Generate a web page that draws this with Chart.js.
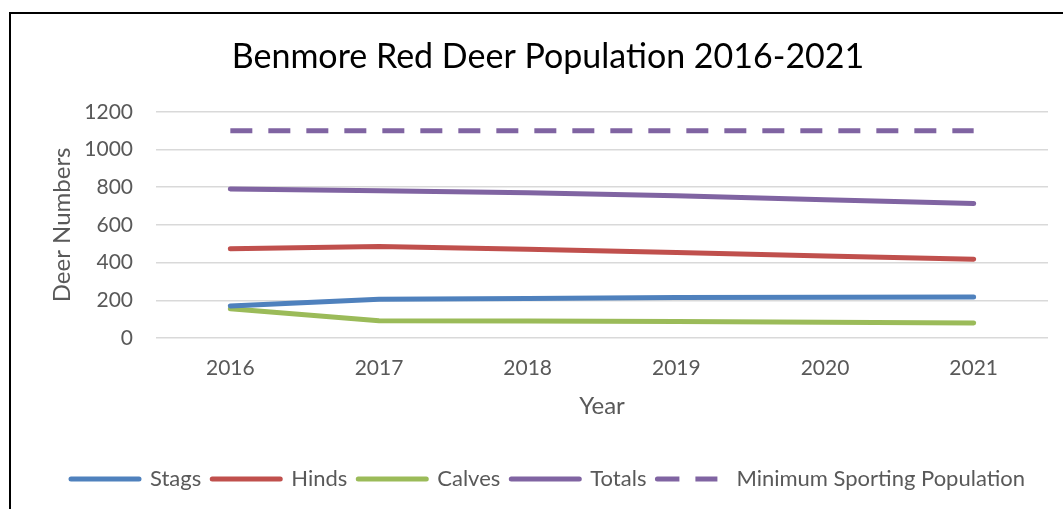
<!DOCTYPE html>
<html>
<head>
<meta charset="utf-8">
<script src="https://cdn.jsdelivr.net/npm/chart.js@4/dist/chart.umd.min.js"></script>
<style>
  html, body { margin: 0; padding: 0; background: #fff; width: 1063px; height: 509px; overflow: hidden; }
  #wrap { position: absolute; left: 9px; top: 12px; width: 1054px; height: 497px;
          border-left: 2px solid #000; border-top: 2px solid #000; box-sizing: border-box; }
  #c { display: block; }
</style>
</head>
<body>
<div id="wrap"><canvas id="c" width="1052" height="495"></canvas></div>
<script>
const years = ['2016', '2017', '2018', '2019', '2020', '2021'];
const stags = [170, 205, 210, 215, 216, 217];
const hinds = [473, 485, 471, 453, 435, 418];
const calves = [155, 92, 90, 87, 84, 80];
const totals = [791, 781, 770, 754, 733, 713];
const minSporting = [1100, 1100, 1100, 1100, 1100, 1100];

const FONT = 'Lato, "Open Sans", sans-serif';
const GREY = '#595959';

function line(label, data, color, dash) {
  return {
    label, data,
    borderColor: color, backgroundColor: color,
    borderWidth: 5, pointRadius: 0, pointHoverRadius: 0, tension: 0,
    borderCapStyle: dash ? 'butt' : 'round', borderJoinStyle: 'round',
    borderDash: dash || []
  };
}

new Chart(document.getElementById('c'), {
  type: 'line',
  data: {
    labels: years,
    datasets: [
      line('Stags', stags, '#4F81BD'),
      line('Hinds', hinds, '#C0504D'),
      line('Calves', calves, '#9BBB59'),
      line('Totals', totals, '#8064A2'),
      line('Minimum Sporting Population', minSporting, '#8064A2', [22, 16])
    ]
  },
  options: {
    responsive: false,
    animation: false,
    events: [],
    layout: { padding: { top: 10, left: 37, right: 15, bottom: 9 } },
    plugins: {
      tooltip: { enabled: false },
      title: {
        display: true,
        text: 'Benmore Red Deer Population 2016-2021',
        color: '#000',
        font: { family: FONT, size: 34, weight: 'normal' },
        padding: { top: 13, bottom: 34 }
      },
      legend: {
        position: 'bottom',
        labels: {
          color: GREY,
          font: { family: FONT, size: 22 },
          boxWidth: 68,
          boxHeight: 0,
          padding: 11
        }
      }
    },
    scales: {
      x: {
        offset: true,
        grid: { display: false, offset: true },
        border: { display: false },
        ticks: { color: GREY, font: { family: FONT, size: 21 }, padding: 10 },
        title: { display: true, text: 'Year', color: GREY, font: { family: FONT, size: 24 }, padding: { top: 0, bottom: 36 } },
        afterFit: s => { s.height = 119; }
      },
      y: {
        min: 0, max: 1200,
        grid: { color: '#D9D9D9', lineWidth: 1.5, drawTicks: false },
        border: { display: false },
        ticks: { stepSize: 200, color: GREY, font: { family: FONT, size: 21 }, padding: 23,
                 callback: v => String(v) },
        title: { display: true, text: 'Deer Numbers', color: GREY, font: { family: FONT, size: 24 }, padding: { top: 0, bottom: 0 } },
        afterFit: s => { s.width = 108; }
      }
    }
  }
});
</script>
</body>
</html>
